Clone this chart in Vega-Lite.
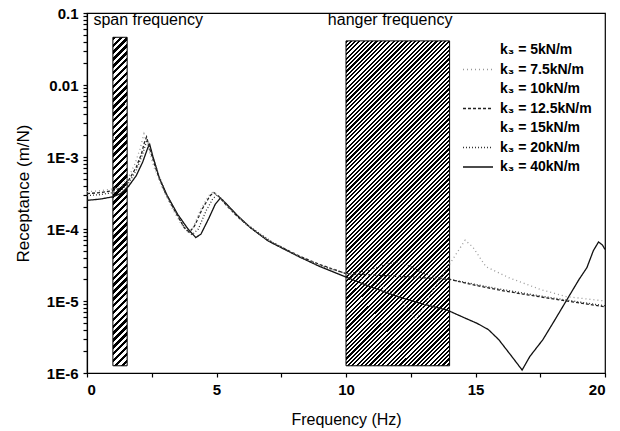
{
"$schema":"https://vega.github.io/schema/vega-lite/v6.json",
"width":518,"height":360,
"autosize":{"type":"none"},
"padding":{"left":87,"top":13,"right":15,"bottom":58},
"background":"white",
"config":{"font":"Liberation Sans","view":{"stroke":"black","strokeWidth":1.2},
 "axis":{"domainColor":"black","tickColor":"black","labelColor":"black","titleColor":"black","grid":false,"domainWidth":1.2,"tickWidth":1.2,"labelOverlap":false},
 "legend":{"orient":"none","legendX":375,"legendY":29,"padding":0,"symbolType":"stroke","symbolSize":900,"symbolStrokeWidth":1.3,"clipHeight":16,"rowPadding":3.5,"labelOffset":6,"labelFontSize":14,"labelFontWeight":"bold","labelColor":"black","labelFont":"Liberation Sans"}},
"datasets":{
"bands":[{"b":"span","f1":1.0,"f2":1.55,"r1":1.26e-6,"r2":0.046},{"b":"hanger","f1":10,"f2":14,"r1":1.26e-6,"r2":0.041}],
"notes":[{"f":0.25,"r":0.08,"t":"span frequency"},{"f":9.3,"r":0.08,"t":"hanger frequency"}],
"curves":[
{"k":"40","f":0,"r":2.5e-4},{"k":"40","f":0.5,"r":2.6e-4},{"k":"40","f":1.0,"r":2.8e-4},{"k":"40","f":1.3,"r":3.1e-4},{"k":"40","f":1.6,"r":3.9e-4},{"k":"40","f":1.9,"r":5.5e-4},{"k":"40","f":2.15,"r":8.5e-4},{"k":"40","f":2.35,"r":1.35e-3},{"k":"40","f":2.42,"r":1.5e-3},{"k":"40","f":2.55,"r":1.0e-3},{"k":"40","f":2.8,"r":5.0e-4},{"k":"40","f":3.1,"r":2.9e-4},{"k":"40","f":3.5,"r":1.6e-4},{"k":"40","f":3.9,"r":1.0e-4},{"k":"40","f":4.2,"r":7.6e-5},{"k":"40","f":4.4,"r":8.5e-5},{"k":"40","f":4.7,"r":1.4e-4},{"k":"40","f":4.95,"r":2.2e-4},{"k":"40","f":5.15,"r":2.7e-4},{"k":"40","f":5.4,"r":2.2e-4},{"k":"40","f":5.8,"r":1.55e-4},{"k":"40","f":6.3,"r":1.05e-4},{"k":"40","f":7.0,"r":6.8e-5},{"k":"40","f":7.5,"r":5.5e-5},{"k":"40","f":8.2,"r":4.1e-5},{"k":"40","f":9.0,"r":3.0e-5},{"k":"40","f":10.0,"r":2.15e-5},{"k":"40","f":11.0,"r":1.55e-5},{"k":"40","f":12.0,"r":1.15e-5},{"k":"40","f":13.0,"r":9.0e-6},{"k":"40","f":13.9,"r":7.5e-6},{"k":"40","f":14.5,"r":6.0e-6},{"k":"40","f":15.06,"r":4.9e-6},{"k":"40","f":15.5,"r":4.0e-6},{"k":"40","f":15.9,"r":2.9e-6},{"k":"40","f":16.4,"r":1.7e-6},{"k":"40","f":16.8,"r":1.1e-6},{"k":"40","f":17.1,"r":1.7e-6},{"k":"40","f":17.6,"r":2.9e-6},{"k":"40","f":18.0,"r":5.0e-6},{"k":"40","f":18.5,"r":1.0e-5},{"k":"40","f":19.0,"r":2.0e-5},{"k":"40","f":19.3,"r":2.9e-5},{"k":"40","f":19.55,"r":5.0e-5},{"k":"40","f":19.75,"r":6.6e-5},{"k":"40","f":19.9,"r":6.0e-5},{"k":"40","f":20,"r":5.2e-5},
{"k":"12.5","f":0,"r":3.1e-4},{"k":"12.5","f":0.5,"r":3.2e-4},{"k":"12.5","f":1.0,"r":3.4e-4},{"k":"12.5","f":1.3,"r":3.7e-4},{"k":"12.5","f":1.6,"r":4.7e-4},{"k":"12.5","f":1.9,"r":7.2e-4},{"k":"12.5","f":2.1,"r":1.1e-3},{"k":"12.5","f":2.22,"r":1.6e-3},{"k":"12.5","f":2.3,"r":1.9e-3},{"k":"12.5","f":2.42,"r":1.3e-3},{"k":"12.5","f":2.7,"r":6.2e-4},{"k":"12.5","f":3.0,"r":3.3e-4},{"k":"12.5","f":3.4,"r":1.75e-4},{"k":"12.5","f":3.75,"r":1.05e-4},{"k":"12.5","f":3.95,"r":9.0e-5},{"k":"12.5","f":4.15,"r":1.1e-4},{"k":"12.5","f":4.45,"r":1.9e-4},{"k":"12.5","f":4.75,"r":2.9e-4},{"k":"12.5","f":4.9,"r":3.2e-4},{"k":"12.5","f":5.1,"r":2.8e-4},{"k":"12.5","f":5.4,"r":2.1e-4},{"k":"12.5","f":5.8,"r":1.5e-4},{"k":"12.5","f":6.3,"r":1.05e-4},{"k":"12.5","f":7.0,"r":6.9e-5},{"k":"12.5","f":8.2,"r":4.2e-5},{"k":"12.5","f":9.0,"r":3.2e-5},{"k":"12.5","f":10.0,"r":2.4e-5},{"k":"12.5","f":11.0,"r":2.3e-5},{"k":"12.5","f":12.0,"r":2.2e-5},{"k":"12.5","f":13.0,"r":2.1e-5},{"k":"12.5","f":14.0,"r":2.0e-5},{"k":"12.5","f":15.0,"r":1.65e-5},{"k":"12.5","f":16.0,"r":1.4e-5},{"k":"12.5","f":17.0,"r":1.22e-5},{"k":"12.5","f":18.0,"r":1.07e-5},{"k":"12.5","f":19.0,"r":9.4e-6},{"k":"12.5","f":20.0,"r":8.3e-6},
{"k":"7.5","f":0,"r":3.3e-4},{"k":"7.5","f":0.5,"r":3.4e-4},{"k":"7.5","f":1.0,"r":3.6e-4},{"k":"7.5","f":1.3,"r":3.9e-4},{"k":"7.5","f":1.6,"r":5.2e-4},{"k":"7.5","f":1.85,"r":8.0e-4},{"k":"7.5","f":2.05,"r":1.3e-3},{"k":"7.5","f":2.2,"r":2.1e-3},{"k":"7.5","f":2.35,"r":1.4e-3},{"k":"7.5","f":2.6,"r":7.0e-4},{"k":"7.5","f":2.9,"r":3.8e-4},{"k":"7.5","f":3.3,"r":1.9e-4},{"k":"7.5","f":3.65,"r":1.15e-4},{"k":"7.5","f":3.9,"r":9.0e-5},{"k":"7.5","f":4.1,"r":1.05e-4},{"k":"7.5","f":4.4,"r":1.9e-4},{"k":"7.5","f":4.7,"r":2.9e-4},{"k":"7.5","f":4.88,"r":3.3e-4},{"k":"7.5","f":5.1,"r":2.8e-4},{"k":"7.5","f":5.4,"r":2.1e-4},{"k":"7.5","f":5.8,"r":1.5e-4},{"k":"7.5","f":6.3,"r":1.06e-4},{"k":"7.5","f":7.0,"r":7.0e-5},{"k":"7.5","f":8.2,"r":4.2e-5},{"k":"7.5","f":9.0,"r":3.1e-5},{"k":"7.5","f":10.0,"r":2.4e-5},{"k":"7.5","f":11.0,"r":1.9e-5},{"k":"7.5","f":12.0,"r":1.2e-5},{"k":"7.5","f":12.7,"r":5.5e-6},{"k":"7.5","f":13.3,"r":1.3e-5},{"k":"7.5","f":13.8,"r":2.5e-5},{"k":"7.5","f":14.2,"r":4.2e-5},{"k":"7.5","f":14.6,"r":7.0e-5},{"k":"7.5","f":14.9,"r":5.6e-5},{"k":"7.5","f":15.4,"r":3.0e-5},{"k":"7.5","f":16.3,"r":2.1e-5},{"k":"7.5","f":17.5,"r":1.45e-5},{"k":"7.5","f":18.5,"r":1.15e-5},{"k":"7.5","f":20.0,"r":1.0e-5},
{"k":"20","f":0,"r":2.9e-4},{"k":"20","f":0.5,"r":3.0e-4},{"k":"20","f":1.0,"r":3.2e-4},{"k":"20","f":1.3,"r":3.4e-4},{"k":"20","f":1.6,"r":4.3e-4},{"k":"20","f":1.9,"r":6.5e-4},{"k":"20","f":2.15,"r":1.1e-3},{"k":"20","f":2.32,"r":1.75e-3},{"k":"20","f":2.47,"r":1.2e-3},{"k":"20","f":2.75,"r":5.8e-4},{"k":"20","f":3.05,"r":3.1e-4},{"k":"20","f":3.45,"r":1.65e-4},{"k":"20","f":3.8,"r":1.0e-4},{"k":"20","f":4.05,"r":8.3e-5},{"k":"20","f":4.3,"r":1.0e-4},{"k":"20","f":4.6,"r":1.8e-4},{"k":"20","f":4.85,"r":2.6e-4},{"k":"20","f":5.02,"r":3.0e-4},{"k":"20","f":5.25,"r":2.5e-4},{"k":"20","f":5.6,"r":1.8e-4},{"k":"20","f":6.0,"r":1.3e-4},{"k":"20","f":6.5,"r":9.5e-5},{"k":"20","f":7.2,"r":6.4e-5},{"k":"20","f":8.2,"r":4.1e-5},{"k":"20","f":9.0,"r":3.1e-5},{"k":"20","f":10.0,"r":2.4e-5},{"k":"20","f":10.8,"r":2.6e-5},{"k":"20","f":11.5,"r":3.2e-5},{"k":"20","f":12.0,"r":3.5e-5},{"k":"20","f":12.5,"r":3.0e-5},{"k":"20","f":13.0,"r":2.4e-5},{"k":"20","f":13.6,"r":2.1e-5},{"k":"20","f":14.0,"r":2.0e-5},{"k":"20","f":15.0,"r":1.7e-5},{"k":"20","f":16.0,"r":1.45e-5},{"k":"20","f":17.0,"r":1.26e-5},{"k":"20","f":18.0,"r":1.1e-5},{"k":"20","f":19.0,"r":9.7e-6},{"k":"20","f":20.0,"r":8.6e-6}
]},
"layer":[
{"data":{"name":"curves"},"mark":{"type":"line","strokeWidth":1.3,"opacity":0},
 "encoding":{
  "x":{"field":"f","type":"quantitative","scale":{"domain":[0,20],"nice":false},"axis":{"orient":"bottom","values":[0,2.5,5,7.5,10,12.5,15,17.5,20],"labelExpr":"datum.value % 5 == 0 ? datum.label : ''","tickSize":4,"title":"Frequency (Hz)","titleFontSize":16,"titleFontWeight":"normal","titlePadding":14,"labelFontSize":15,"labelFontWeight":"bold","labelPadding":5}},
  "y":{"field":"r","type":"quantitative","scale":{"type":"log","domain":[1e-6,0.1],"nice":false},"axis":{"orient":"left","values":[1e-6,2e-6,3e-6,4e-6,5e-6,6e-6,7e-6,8e-6,9e-6,1e-5,2e-5,3e-5,4e-5,5e-5,6e-5,7e-5,8e-5,9e-5,1e-4,2e-4,3e-4,4e-4,5e-4,6e-4,7e-4,8e-4,9e-4,0.001,0.002,0.003,0.004,0.005,0.006,0.007,0.008,0.009,0.01,0.02,0.03,0.04,0.05,0.06,0.07,0.08,0.09,0.1],"labelExpr":"abs(log(datum.value)/LN10 - round(log(datum.value)/LN10)) > 0.01 ? '' : (datum.value >= 0.01 ? (datum.value >= 0.099 ? '0.1' : '0.01') : '1E' + round(log(datum.value)/LN10))","tickSize":4,"title":"Receptance (m/N)","titleFontSize":17,"titleFontWeight":"normal","titlePadding":14,"labelFontSize":15,"labelFontWeight":"bold","labelPadding":5}},
  "detail":{"field":"k"}
 }},
{"data":{"name":"bands"},"transform":[{"filter":"datum.b=='span'"}],
 "mark":{"type":"rect","stroke":"black","strokeWidth":1,"fill":{"gradient":"linear","x1":0,"y1":0,"x2":0.0452,"y2":1.0414,"stops":[
{"offset":0,"color":"#000"},
{"offset":0.01,"color":"#000"},{"offset":0.01,"color":"#fff"},{"offset":0.02,"color":"#fff"},{"offset":0.02,"color":"#000"},
{"offset":0.03,"color":"#000"},{"offset":0.03,"color":"#fff"},{"offset":0.04,"color":"#fff"},{"offset":0.04,"color":"#000"},
{"offset":0.05,"color":"#000"},{"offset":0.05,"color":"#fff"},{"offset":0.06,"color":"#fff"},{"offset":0.06,"color":"#000"},
{"offset":0.07,"color":"#000"},{"offset":0.07,"color":"#fff"},{"offset":0.08,"color":"#fff"},{"offset":0.08,"color":"#000"},
{"offset":0.09,"color":"#000"},{"offset":0.09,"color":"#fff"},{"offset":0.1,"color":"#fff"},{"offset":0.1,"color":"#000"},
{"offset":0.11,"color":"#000"},{"offset":0.11,"color":"#fff"},{"offset":0.12,"color":"#fff"},{"offset":0.12,"color":"#000"},
{"offset":0.13,"color":"#000"},{"offset":0.13,"color":"#fff"},{"offset":0.14,"color":"#fff"},{"offset":0.14,"color":"#000"},
{"offset":0.15,"color":"#000"},{"offset":0.15,"color":"#fff"},{"offset":0.16,"color":"#fff"},{"offset":0.16,"color":"#000"},
{"offset":0.17,"color":"#000"},{"offset":0.17,"color":"#fff"},{"offset":0.18,"color":"#fff"},{"offset":0.18,"color":"#000"},
{"offset":0.19,"color":"#000"},{"offset":0.19,"color":"#fff"},{"offset":0.2,"color":"#fff"},{"offset":0.2,"color":"#000"},
{"offset":0.21,"color":"#000"},{"offset":0.21,"color":"#fff"},{"offset":0.22,"color":"#fff"},{"offset":0.22,"color":"#000"},
{"offset":0.23,"color":"#000"},{"offset":0.23,"color":"#fff"},{"offset":0.24,"color":"#fff"},{"offset":0.24,"color":"#000"},
{"offset":0.25,"color":"#000"},{"offset":0.25,"color":"#fff"},{"offset":0.26,"color":"#fff"},{"offset":0.26,"color":"#000"},
{"offset":0.27,"color":"#000"},{"offset":0.27,"color":"#fff"},{"offset":0.28,"color":"#fff"},{"offset":0.28,"color":"#000"},
{"offset":0.29,"color":"#000"},{"offset":0.29,"color":"#fff"},{"offset":0.3,"color":"#fff"},{"offset":0.3,"color":"#000"},
{"offset":0.31,"color":"#000"},{"offset":0.31,"color":"#fff"},{"offset":0.32,"color":"#fff"},{"offset":0.32,"color":"#000"},
{"offset":0.33,"color":"#000"},{"offset":0.33,"color":"#fff"},{"offset":0.34,"color":"#fff"},{"offset":0.34,"color":"#000"},
{"offset":0.35,"color":"#000"},{"offset":0.35,"color":"#fff"},{"offset":0.36,"color":"#fff"},{"offset":0.36,"color":"#000"},
{"offset":0.37,"color":"#000"},{"offset":0.37,"color":"#fff"},{"offset":0.38,"color":"#fff"},{"offset":0.38,"color":"#000"},
{"offset":0.39,"color":"#000"},{"offset":0.39,"color":"#fff"},{"offset":0.4,"color":"#fff"},{"offset":0.4,"color":"#000"},
{"offset":0.41,"color":"#000"},{"offset":0.41,"color":"#fff"},{"offset":0.42,"color":"#fff"},{"offset":0.42,"color":"#000"},
{"offset":0.43,"color":"#000"},{"offset":0.43,"color":"#fff"},{"offset":0.44,"color":"#fff"},{"offset":0.44,"color":"#000"},
{"offset":0.45,"color":"#000"},{"offset":0.45,"color":"#fff"},{"offset":0.46,"color":"#fff"},{"offset":0.46,"color":"#000"},
{"offset":0.47,"color":"#000"},{"offset":0.47,"color":"#fff"},{"offset":0.48,"color":"#fff"},{"offset":0.48,"color":"#000"},
{"offset":0.49,"color":"#000"},{"offset":0.49,"color":"#fff"},{"offset":0.5,"color":"#fff"},{"offset":0.5,"color":"#000"},
{"offset":0.51,"color":"#000"},{"offset":0.51,"color":"#fff"},{"offset":0.52,"color":"#fff"},{"offset":0.52,"color":"#000"},
{"offset":0.53,"color":"#000"},{"offset":0.53,"color":"#fff"},{"offset":0.54,"color":"#fff"},{"offset":0.54,"color":"#000"},
{"offset":0.55,"color":"#000"},{"offset":0.55,"color":"#fff"},{"offset":0.56,"color":"#fff"},{"offset":0.56,"color":"#000"},
{"offset":0.57,"color":"#000"},{"offset":0.57,"color":"#fff"},{"offset":0.58,"color":"#fff"},{"offset":0.58,"color":"#000"},
{"offset":0.59,"color":"#000"},{"offset":0.59,"color":"#fff"},{"offset":0.6,"color":"#fff"},{"offset":0.6,"color":"#000"},
{"offset":0.61,"color":"#000"},{"offset":0.61,"color":"#fff"},{"offset":0.62,"color":"#fff"},{"offset":0.62,"color":"#000"},
{"offset":0.63,"color":"#000"},{"offset":0.63,"color":"#fff"},{"offset":0.64,"color":"#fff"},{"offset":0.64,"color":"#000"},
{"offset":0.65,"color":"#000"},{"offset":0.65,"color":"#fff"},{"offset":0.66,"color":"#fff"},{"offset":0.66,"color":"#000"},
{"offset":0.67,"color":"#000"},{"offset":0.67,"color":"#fff"},{"offset":0.68,"color":"#fff"},{"offset":0.68,"color":"#000"},
{"offset":0.69,"color":"#000"},{"offset":0.69,"color":"#fff"},{"offset":0.7,"color":"#fff"},{"offset":0.7,"color":"#000"},
{"offset":0.71,"color":"#000"},{"offset":0.71,"color":"#fff"},{"offset":0.72,"color":"#fff"},{"offset":0.72,"color":"#000"},
{"offset":0.73,"color":"#000"},{"offset":0.73,"color":"#fff"},{"offset":0.74,"color":"#fff"},{"offset":0.74,"color":"#000"},
{"offset":0.75,"color":"#000"},{"offset":0.75,"color":"#fff"},{"offset":0.76,"color":"#fff"},{"offset":0.76,"color":"#000"},
{"offset":0.77,"color":"#000"},{"offset":0.77,"color":"#fff"},{"offset":0.78,"color":"#fff"},{"offset":0.78,"color":"#000"},
{"offset":0.79,"color":"#000"},{"offset":0.79,"color":"#fff"},{"offset":0.8,"color":"#fff"},{"offset":0.8,"color":"#000"},
{"offset":0.81,"color":"#000"},{"offset":0.81,"color":"#fff"},{"offset":0.82,"color":"#fff"},{"offset":0.82,"color":"#000"},
{"offset":0.83,"color":"#000"},{"offset":0.83,"color":"#fff"},{"offset":0.84,"color":"#fff"},{"offset":0.84,"color":"#000"},
{"offset":0.85,"color":"#000"},{"offset":0.85,"color":"#fff"},{"offset":0.86,"color":"#fff"},{"offset":0.86,"color":"#000"},
{"offset":0.87,"color":"#000"},{"offset":0.87,"color":"#fff"},{"offset":0.88,"color":"#fff"},{"offset":0.88,"color":"#000"},
{"offset":0.89,"color":"#000"},{"offset":0.89,"color":"#fff"},{"offset":0.9,"color":"#fff"},{"offset":0.9,"color":"#000"},
{"offset":0.91,"color":"#000"},{"offset":0.91,"color":"#fff"},{"offset":0.92,"color":"#fff"},{"offset":0.92,"color":"#000"},
{"offset":0.93,"color":"#000"},{"offset":0.93,"color":"#fff"},{"offset":0.94,"color":"#fff"},{"offset":0.94,"color":"#000"},
{"offset":0.95,"color":"#000"},{"offset":0.95,"color":"#fff"},{"offset":0.96,"color":"#fff"},{"offset":0.96,"color":"#000"},
{"offset":0.97,"color":"#000"},{"offset":0.97,"color":"#fff"},{"offset":0.98,"color":"#fff"},{"offset":0.98,"color":"#000"},
{"offset":0.99,"color":"#000"},{"offset":0.99,"color":"#fff"},{"offset":1,"color":"#fff"}
]}},
 "encoding":{"x":{"field":"f1","type":"quantitative","title":"Frequency (Hz)"},"x2":{"field":"f2"},
  "y":{"field":"r1","type":"quantitative","title":"Receptance (m/N)"},"y2":{"field":"r2"}}},
{"data":{"name":"bands"},"transform":[{"filter":"datum.b=='hanger'"}],
 "mark":{"type":"rect","stroke":"black","strokeWidth":1,"fill":{"gradient":"linear","x1":0,"y1":0,"x2":0.3817,"y2":1.1973,"stops":[
{"offset":0,"color":"#000"},
{"offset":0.005,"color":"#000"},{"offset":0.005,"color":"#fff"},{"offset":0.01,"color":"#fff"},{"offset":0.01,"color":"#000"},
{"offset":0.015,"color":"#000"},{"offset":0.015,"color":"#fff"},{"offset":0.02,"color":"#fff"},{"offset":0.02,"color":"#000"},
{"offset":0.025,"color":"#000"},{"offset":0.025,"color":"#fff"},{"offset":0.03,"color":"#fff"},{"offset":0.03,"color":"#000"},
{"offset":0.035,"color":"#000"},{"offset":0.035,"color":"#fff"},{"offset":0.04,"color":"#fff"},{"offset":0.04,"color":"#000"},
{"offset":0.045,"color":"#000"},{"offset":0.045,"color":"#fff"},{"offset":0.05,"color":"#fff"},{"offset":0.05,"color":"#000"},
{"offset":0.055,"color":"#000"},{"offset":0.055,"color":"#fff"},{"offset":0.06,"color":"#fff"},{"offset":0.06,"color":"#000"},
{"offset":0.065,"color":"#000"},{"offset":0.065,"color":"#fff"},{"offset":0.07,"color":"#fff"},{"offset":0.07,"color":"#000"},
{"offset":0.075,"color":"#000"},{"offset":0.075,"color":"#fff"},{"offset":0.08,"color":"#fff"},{"offset":0.08,"color":"#000"},
{"offset":0.085,"color":"#000"},{"offset":0.085,"color":"#fff"},{"offset":0.09,"color":"#fff"},{"offset":0.09,"color":"#000"},
{"offset":0.095,"color":"#000"},{"offset":0.095,"color":"#fff"},{"offset":0.1,"color":"#fff"},{"offset":0.1,"color":"#000"},
{"offset":0.105,"color":"#000"},{"offset":0.105,"color":"#fff"},{"offset":0.11,"color":"#fff"},{"offset":0.11,"color":"#000"},
{"offset":0.115,"color":"#000"},{"offset":0.115,"color":"#fff"},{"offset":0.12,"color":"#fff"},{"offset":0.12,"color":"#000"},
{"offset":0.125,"color":"#000"},{"offset":0.125,"color":"#fff"},{"offset":0.13,"color":"#fff"},{"offset":0.13,"color":"#000"},
{"offset":0.135,"color":"#000"},{"offset":0.135,"color":"#fff"},{"offset":0.14,"color":"#fff"},{"offset":0.14,"color":"#000"},
{"offset":0.145,"color":"#000"},{"offset":0.145,"color":"#fff"},{"offset":0.15,"color":"#fff"},{"offset":0.15,"color":"#000"},
{"offset":0.155,"color":"#000"},{"offset":0.155,"color":"#fff"},{"offset":0.16,"color":"#fff"},{"offset":0.16,"color":"#000"},
{"offset":0.165,"color":"#000"},{"offset":0.165,"color":"#fff"},{"offset":0.17,"color":"#fff"},{"offset":0.17,"color":"#000"},
{"offset":0.175,"color":"#000"},{"offset":0.175,"color":"#fff"},{"offset":0.18,"color":"#fff"},{"offset":0.18,"color":"#000"},
{"offset":0.185,"color":"#000"},{"offset":0.185,"color":"#fff"},{"offset":0.19,"color":"#fff"},{"offset":0.19,"color":"#000"},
{"offset":0.195,"color":"#000"},{"offset":0.195,"color":"#fff"},{"offset":0.2,"color":"#fff"},{"offset":0.2,"color":"#000"},
{"offset":0.205,"color":"#000"},{"offset":0.205,"color":"#fff"},{"offset":0.21,"color":"#fff"},{"offset":0.21,"color":"#000"},
{"offset":0.215,"color":"#000"},{"offset":0.215,"color":"#fff"},{"offset":0.22,"color":"#fff"},{"offset":0.22,"color":"#000"},
{"offset":0.225,"color":"#000"},{"offset":0.225,"color":"#fff"},{"offset":0.23,"color":"#fff"},{"offset":0.23,"color":"#000"},
{"offset":0.235,"color":"#000"},{"offset":0.235,"color":"#fff"},{"offset":0.24,"color":"#fff"},{"offset":0.24,"color":"#000"},
{"offset":0.245,"color":"#000"},{"offset":0.245,"color":"#fff"},{"offset":0.25,"color":"#fff"},{"offset":0.25,"color":"#000"},
{"offset":0.255,"color":"#000"},{"offset":0.255,"color":"#fff"},{"offset":0.26,"color":"#fff"},{"offset":0.26,"color":"#000"},
{"offset":0.265,"color":"#000"},{"offset":0.265,"color":"#fff"},{"offset":0.27,"color":"#fff"},{"offset":0.27,"color":"#000"},
{"offset":0.275,"color":"#000"},{"offset":0.275,"color":"#fff"},{"offset":0.28,"color":"#fff"},{"offset":0.28,"color":"#000"},
{"offset":0.285,"color":"#000"},{"offset":0.285,"color":"#fff"},{"offset":0.29,"color":"#fff"},{"offset":0.29,"color":"#000"},
{"offset":0.295,"color":"#000"},{"offset":0.295,"color":"#fff"},{"offset":0.3,"color":"#fff"},{"offset":0.3,"color":"#000"},
{"offset":0.305,"color":"#000"},{"offset":0.305,"color":"#fff"},{"offset":0.31,"color":"#fff"},{"offset":0.31,"color":"#000"},
{"offset":0.315,"color":"#000"},{"offset":0.315,"color":"#fff"},{"offset":0.32,"color":"#fff"},{"offset":0.32,"color":"#000"},
{"offset":0.325,"color":"#000"},{"offset":0.325,"color":"#fff"},{"offset":0.33,"color":"#fff"},{"offset":0.33,"color":"#000"},
{"offset":0.335,"color":"#000"},{"offset":0.335,"color":"#fff"},{"offset":0.34,"color":"#fff"},{"offset":0.34,"color":"#000"},
{"offset":0.345,"color":"#000"},{"offset":0.345,"color":"#fff"},{"offset":0.35,"color":"#fff"},{"offset":0.35,"color":"#000"},
{"offset":0.355,"color":"#000"},{"offset":0.355,"color":"#fff"},{"offset":0.36,"color":"#fff"},{"offset":0.36,"color":"#000"},
{"offset":0.365,"color":"#000"},{"offset":0.365,"color":"#fff"},{"offset":0.37,"color":"#fff"},{"offset":0.37,"color":"#000"},
{"offset":0.375,"color":"#000"},{"offset":0.375,"color":"#fff"},{"offset":0.38,"color":"#fff"},{"offset":0.38,"color":"#000"},
{"offset":0.385,"color":"#000"},{"offset":0.385,"color":"#fff"},{"offset":0.39,"color":"#fff"},{"offset":0.39,"color":"#000"},
{"offset":0.395,"color":"#000"},{"offset":0.395,"color":"#fff"},{"offset":0.4,"color":"#fff"},{"offset":0.4,"color":"#000"},
{"offset":0.405,"color":"#000"},{"offset":0.405,"color":"#fff"},{"offset":0.41,"color":"#fff"},{"offset":0.41,"color":"#000"},
{"offset":0.415,"color":"#000"},{"offset":0.415,"color":"#fff"},{"offset":0.42,"color":"#fff"},{"offset":0.42,"color":"#000"},
{"offset":0.425,"color":"#000"},{"offset":0.425,"color":"#fff"},{"offset":0.43,"color":"#fff"},{"offset":0.43,"color":"#000"},
{"offset":0.435,"color":"#000"},{"offset":0.435,"color":"#fff"},{"offset":0.44,"color":"#fff"},{"offset":0.44,"color":"#000"},
{"offset":0.445,"color":"#000"},{"offset":0.445,"color":"#fff"},{"offset":0.45,"color":"#fff"},{"offset":0.45,"color":"#000"},
{"offset":0.455,"color":"#000"},{"offset":0.455,"color":"#fff"},{"offset":0.46,"color":"#fff"},{"offset":0.46,"color":"#000"},
{"offset":0.465,"color":"#000"},{"offset":0.465,"color":"#fff"},{"offset":0.47,"color":"#fff"},{"offset":0.47,"color":"#000"},
{"offset":0.475,"color":"#000"},{"offset":0.475,"color":"#fff"},{"offset":0.48,"color":"#fff"},{"offset":0.48,"color":"#000"},
{"offset":0.485,"color":"#000"},{"offset":0.485,"color":"#fff"},{"offset":0.49,"color":"#fff"},{"offset":0.49,"color":"#000"},
{"offset":0.495,"color":"#000"},{"offset":0.495,"color":"#fff"},{"offset":0.5,"color":"#fff"},{"offset":0.5,"color":"#000"},
{"offset":0.505,"color":"#000"},{"offset":0.505,"color":"#fff"},{"offset":0.51,"color":"#fff"},{"offset":0.51,"color":"#000"},
{"offset":0.515,"color":"#000"},{"offset":0.515,"color":"#fff"},{"offset":0.52,"color":"#fff"},{"offset":0.52,"color":"#000"},
{"offset":0.525,"color":"#000"},{"offset":0.525,"color":"#fff"},{"offset":0.53,"color":"#fff"},{"offset":0.53,"color":"#000"},
{"offset":0.535,"color":"#000"},{"offset":0.535,"color":"#fff"},{"offset":0.54,"color":"#fff"},{"offset":0.54,"color":"#000"},
{"offset":0.545,"color":"#000"},{"offset":0.545,"color":"#fff"},{"offset":0.55,"color":"#fff"},{"offset":0.55,"color":"#000"},
{"offset":0.555,"color":"#000"},{"offset":0.555,"color":"#fff"},{"offset":0.56,"color":"#fff"},{"offset":0.56,"color":"#000"},
{"offset":0.565,"color":"#000"},{"offset":0.565,"color":"#fff"},{"offset":0.57,"color":"#fff"},{"offset":0.57,"color":"#000"},
{"offset":0.575,"color":"#000"},{"offset":0.575,"color":"#fff"},{"offset":0.58,"color":"#fff"},{"offset":0.58,"color":"#000"},
{"offset":0.585,"color":"#000"},{"offset":0.585,"color":"#fff"},{"offset":0.59,"color":"#fff"},{"offset":0.59,"color":"#000"},
{"offset":0.595,"color":"#000"},{"offset":0.595,"color":"#fff"},{"offset":0.6,"color":"#fff"},{"offset":0.6,"color":"#000"},
{"offset":0.605,"color":"#000"},{"offset":0.605,"color":"#fff"},{"offset":0.61,"color":"#fff"},{"offset":0.61,"color":"#000"},
{"offset":0.615,"color":"#000"},{"offset":0.615,"color":"#fff"},{"offset":0.62,"color":"#fff"},{"offset":0.62,"color":"#000"},
{"offset":0.625,"color":"#000"},{"offset":0.625,"color":"#fff"},{"offset":0.63,"color":"#fff"},{"offset":0.63,"color":"#000"},
{"offset":0.635,"color":"#000"},{"offset":0.635,"color":"#fff"},{"offset":0.64,"color":"#fff"},{"offset":0.64,"color":"#000"},
{"offset":0.645,"color":"#000"},{"offset":0.645,"color":"#fff"},{"offset":0.65,"color":"#fff"},{"offset":0.65,"color":"#000"},
{"offset":0.655,"color":"#000"},{"offset":0.655,"color":"#fff"},{"offset":0.66,"color":"#fff"},{"offset":0.66,"color":"#000"},
{"offset":0.665,"color":"#000"},{"offset":0.665,"color":"#fff"},{"offset":0.67,"color":"#fff"},{"offset":0.67,"color":"#000"},
{"offset":0.675,"color":"#000"},{"offset":0.675,"color":"#fff"},{"offset":0.68,"color":"#fff"},{"offset":0.68,"color":"#000"},
{"offset":0.685,"color":"#000"},{"offset":0.685,"color":"#fff"},{"offset":0.69,"color":"#fff"},{"offset":0.69,"color":"#000"},
{"offset":0.695,"color":"#000"},{"offset":0.695,"color":"#fff"},{"offset":0.7,"color":"#fff"},{"offset":0.7,"color":"#000"},
{"offset":0.705,"color":"#000"},{"offset":0.705,"color":"#fff"},{"offset":0.71,"color":"#fff"},{"offset":0.71,"color":"#000"},
{"offset":0.715,"color":"#000"},{"offset":0.715,"color":"#fff"},{"offset":0.72,"color":"#fff"},{"offset":0.72,"color":"#000"},
{"offset":0.725,"color":"#000"},{"offset":0.725,"color":"#fff"},{"offset":0.73,"color":"#fff"},{"offset":0.73,"color":"#000"},
{"offset":0.735,"color":"#000"},{"offset":0.735,"color":"#fff"},{"offset":0.74,"color":"#fff"},{"offset":0.74,"color":"#000"},
{"offset":0.745,"color":"#000"},{"offset":0.745,"color":"#fff"},{"offset":0.75,"color":"#fff"},{"offset":0.75,"color":"#000"},
{"offset":0.755,"color":"#000"},{"offset":0.755,"color":"#fff"},{"offset":0.76,"color":"#fff"},{"offset":0.76,"color":"#000"},
{"offset":0.765,"color":"#000"},{"offset":0.765,"color":"#fff"},{"offset":0.77,"color":"#fff"},{"offset":0.77,"color":"#000"},
{"offset":0.775,"color":"#000"},{"offset":0.775,"color":"#fff"},{"offset":0.78,"color":"#fff"},{"offset":0.78,"color":"#000"},
{"offset":0.785,"color":"#000"},{"offset":0.785,"color":"#fff"},{"offset":0.79,"color":"#fff"},{"offset":0.79,"color":"#000"},
{"offset":0.795,"color":"#000"},{"offset":0.795,"color":"#fff"},{"offset":0.8,"color":"#fff"},{"offset":0.8,"color":"#000"},
{"offset":0.805,"color":"#000"},{"offset":0.805,"color":"#fff"},{"offset":0.81,"color":"#fff"},{"offset":0.81,"color":"#000"},
{"offset":0.815,"color":"#000"},{"offset":0.815,"color":"#fff"},{"offset":0.82,"color":"#fff"},{"offset":0.82,"color":"#000"},
{"offset":0.825,"color":"#000"},{"offset":0.825,"color":"#fff"},{"offset":0.83,"color":"#fff"},{"offset":0.83,"color":"#000"},
{"offset":0.835,"color":"#000"},{"offset":0.835,"color":"#fff"},{"offset":0.84,"color":"#fff"},{"offset":0.84,"color":"#000"},
{"offset":0.845,"color":"#000"},{"offset":0.845,"color":"#fff"},{"offset":0.85,"color":"#fff"},{"offset":0.85,"color":"#000"},
{"offset":0.855,"color":"#000"},{"offset":0.855,"color":"#fff"},{"offset":0.86,"color":"#fff"},{"offset":0.86,"color":"#000"},
{"offset":0.865,"color":"#000"},{"offset":0.865,"color":"#fff"},{"offset":0.87,"color":"#fff"},{"offset":0.87,"color":"#000"},
{"offset":0.875,"color":"#000"},{"offset":0.875,"color":"#fff"},{"offset":0.88,"color":"#fff"},{"offset":0.88,"color":"#000"},
{"offset":0.885,"color":"#000"},{"offset":0.885,"color":"#fff"},{"offset":0.89,"color":"#fff"},{"offset":0.89,"color":"#000"},
{"offset":0.895,"color":"#000"},{"offset":0.895,"color":"#fff"},{"offset":0.9,"color":"#fff"},{"offset":0.9,"color":"#000"},
{"offset":0.905,"color":"#000"},{"offset":0.905,"color":"#fff"},{"offset":0.91,"color":"#fff"},{"offset":0.91,"color":"#000"},
{"offset":0.915,"color":"#000"},{"offset":0.915,"color":"#fff"},{"offset":0.92,"color":"#fff"},{"offset":0.92,"color":"#000"},
{"offset":0.925,"color":"#000"},{"offset":0.925,"color":"#fff"},{"offset":0.93,"color":"#fff"},{"offset":0.93,"color":"#000"},
{"offset":0.935,"color":"#000"},{"offset":0.935,"color":"#fff"},{"offset":0.94,"color":"#fff"},{"offset":0.94,"color":"#000"},
{"offset":0.945,"color":"#000"},{"offset":0.945,"color":"#fff"},{"offset":0.95,"color":"#fff"},{"offset":0.95,"color":"#000"},
{"offset":0.955,"color":"#000"},{"offset":0.955,"color":"#fff"},{"offset":0.96,"color":"#fff"},{"offset":0.96,"color":"#000"},
{"offset":0.965,"color":"#000"},{"offset":0.965,"color":"#fff"},{"offset":0.97,"color":"#fff"},{"offset":0.97,"color":"#000"},
{"offset":0.975,"color":"#000"},{"offset":0.975,"color":"#fff"},{"offset":0.98,"color":"#fff"},{"offset":0.98,"color":"#000"},
{"offset":0.985,"color":"#000"},{"offset":0.985,"color":"#fff"},{"offset":0.99,"color":"#fff"},{"offset":0.99,"color":"#000"},
{"offset":0.995,"color":"#000"},{"offset":0.995,"color":"#fff"},{"offset":1,"color":"#fff"}
]}},
 "encoding":{"x":{"field":"f1","type":"quantitative","title":"Frequency (Hz)"},"x2":{"field":"f2"},
  "y":{"field":"r1","type":"quantitative","title":"Receptance (m/N)"},"y2":{"field":"r2"}}},
{"data":{"name":"curves"},"mark":{"type":"line","strokeWidth":1.3},
 "encoding":{
  "x":{"field":"f","type":"quantitative","title":"Frequency (Hz)"},
  "y":{"field":"r","type":"quantitative","title":"Receptance (m/N)"},
  "color":{"field":"k","type":"nominal","scale":{"domain":["5","7.5","10","12.5","15","20","40"],"range":["transparent","#999999","transparent","#222222","transparent","#333333","#111111"]},"legend":{"title":null,"labelExpr":"'k₃ = ' + datum.label + 'kN/m'"}},
  "strokeDash":{"field":"k","type":"nominal","scale":{"domain":["5","7.5","10","12.5","15","20","40"],"range":[[1,0],[1,3],[1,0],[3,2],[1,0],[1,2],[1,0]]},"legend":{"title":null,"labelExpr":"'k₃ = ' + datum.label + 'kN/m'"}}
 }},
{"data":{"name":"notes"},"mark":{"type":"text","align":"left","baseline":"middle","fontSize":16,"color":"black"},
 "encoding":{
  "x":{"field":"f","type":"quantitative","title":"Frequency (Hz)"},
  "y":{"field":"r","type":"quantitative","title":"Receptance (m/N)"},
  "text":{"field":"t"}
 }}
]
}
